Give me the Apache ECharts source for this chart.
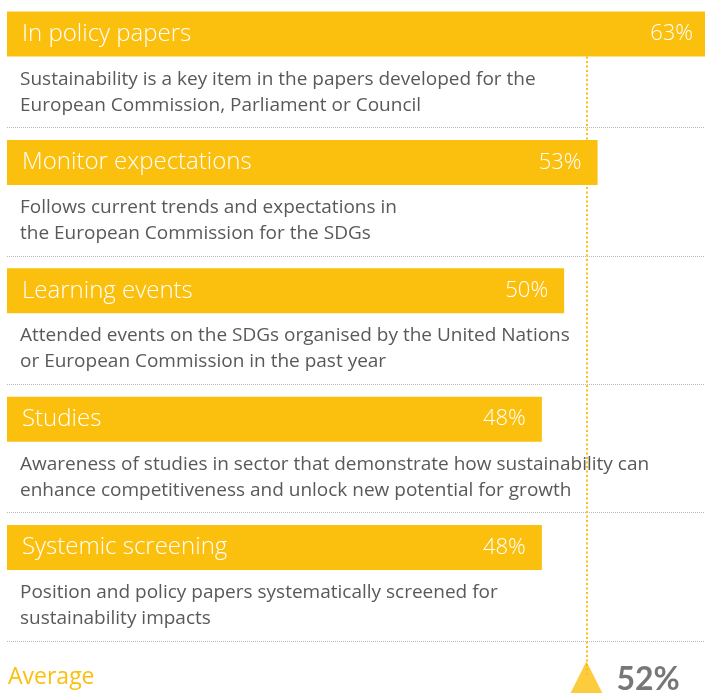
<!DOCTYPE html>
<html>
<head>
<meta charset="utf-8">
<script src="https://cdn.jsdelivr.net/npm/echarts@6/dist/echarts.min.js"></script>
<style>
  html, body { margin: 0; padding: 0; background: #fff; }
  #myEchart1 { width: 705px; height: 693px; }
</style>
</head>
<body>
<div id="myEchart1"></div>
<script>
// data
var categories = ['In policy papers', 'Monitor expectations', 'Learning events', 'Studies', 'Systemic screening'];
var values = [63, 53, 50, 48, 48];
var descriptions = [
  'Sustainability is a key item in the papers developed for the\nEuropean Commission, Parliament or Council',
  'Follows current trends and expectations in\nthe European Commission for the SDGs',
  'Attended events on the SDGs organised by the United Nations\nor European Commission in the past year',
  'Awareness of studies in sector that demonstrate how sustainability can\nenhance competitiveness and unlock new potential for growth',
  'Position and policy papers systematically screened for\nsustainability impacts'
];
var averageLabel = 'Average';
var average = 52;

var yellow = '#fbbf0e';
var font = '"Open Sans", Lato, sans-serif';

var myChart = echarts.init(document.getElementById('myEchart1'));
var option = {
  animation: false,
  title: {
    text: averageLabel,
    left: 8,
    top: 663,
    padding: 0,
    textStyle: { color: yellow, fontFamily: font, fontWeight: 'normal', fontSize: 23, lineHeight: 28 }
  },
  grid: { left: 7, top: -1, width: 702, height: 770.4, outerBoundsMode: 'none', containLabel: false },
  xAxis: { type: 'value', min: 0, max: 63, show: false },
  yAxis: {
    type: 'category',
    inverse: true,
    data: categories.concat([averageLabel]),
    axisLine: { show: false },
    axisTick: { show: false },
    axisLabel: {
      inside: true,
      margin: 13,
      color: '#595959',
      fontFamily: font,
      fontSize: 19,
      lineHeight: 26,
      rich: { g: { fontSize: 10, lineHeight: 29 } },
      formatter: function (value, index) {
        // two empty lines push the text below the bar
        return descriptions[index] ? '{g| }\n{g| }\n' + descriptions[index] : '';
      }
    },
    splitLine: { show: true, lineStyle: { color: '#b8b8b8', type: [1, 1], width: 1 } }
  },
  series: [
    {
      type: 'bar',
      data: values,
      barWidth: 45,
      barGap: '29.8%',
      itemStyle: { color: yellow },
      label: {
        show: true,
        position: 'insideLeft',
        distance: 15,
        formatter: '{b}',
        color: '#fff',
        fontFamily: font,
        fontWeight: 300,
        fontSize: 24
      },
      markLine: {
        silent: true,
        symbol: 'none',
        z: 1,
        label: { show: false },
        lineStyle: { color: yellow, type: [2, 2.5], width: 2 },
        data: [[{ coord: [average, 0] }, { coord: [average, 5] }]]
      }
    },
    {
      type: 'bar',
      data: values,
      barWidth: 45,
      barGap: '29.8%',
      itemStyle: { color: 'transparent' },
      label: {
        show: true,
        position: 'insideRight',
        distance: 16,
        offset: [0, -58.4],
        formatter: '{c}%',
        color: '#fff',
        fontFamily: font,
        fontWeight: 300,
        fontSize: 22
      }
    },
    {
      type: 'scatter',
      data: [[average, 5]],
      symbol: 'triangle',
      symbolSize: [32, 32],
      symbolOffset: [0, -28],
      itemStyle: { color: yellow },
      z: 5,
      label: {
        show: true,
        position: 'right',
        distance: 14,
        offset: [0, 2],
        formatter: '{@[0]}%',
        color: '#555',
        fontFamily: 'Lato, "Open Sans", sans-serif',
        fontWeight: 'bold',
        fontSize: 32
      }
    }
  ]
};

option && myChart.setOption(option);
window.addEventListener('resize', function () {
  myChart.resize();
});
</script>
</body>
</html>
